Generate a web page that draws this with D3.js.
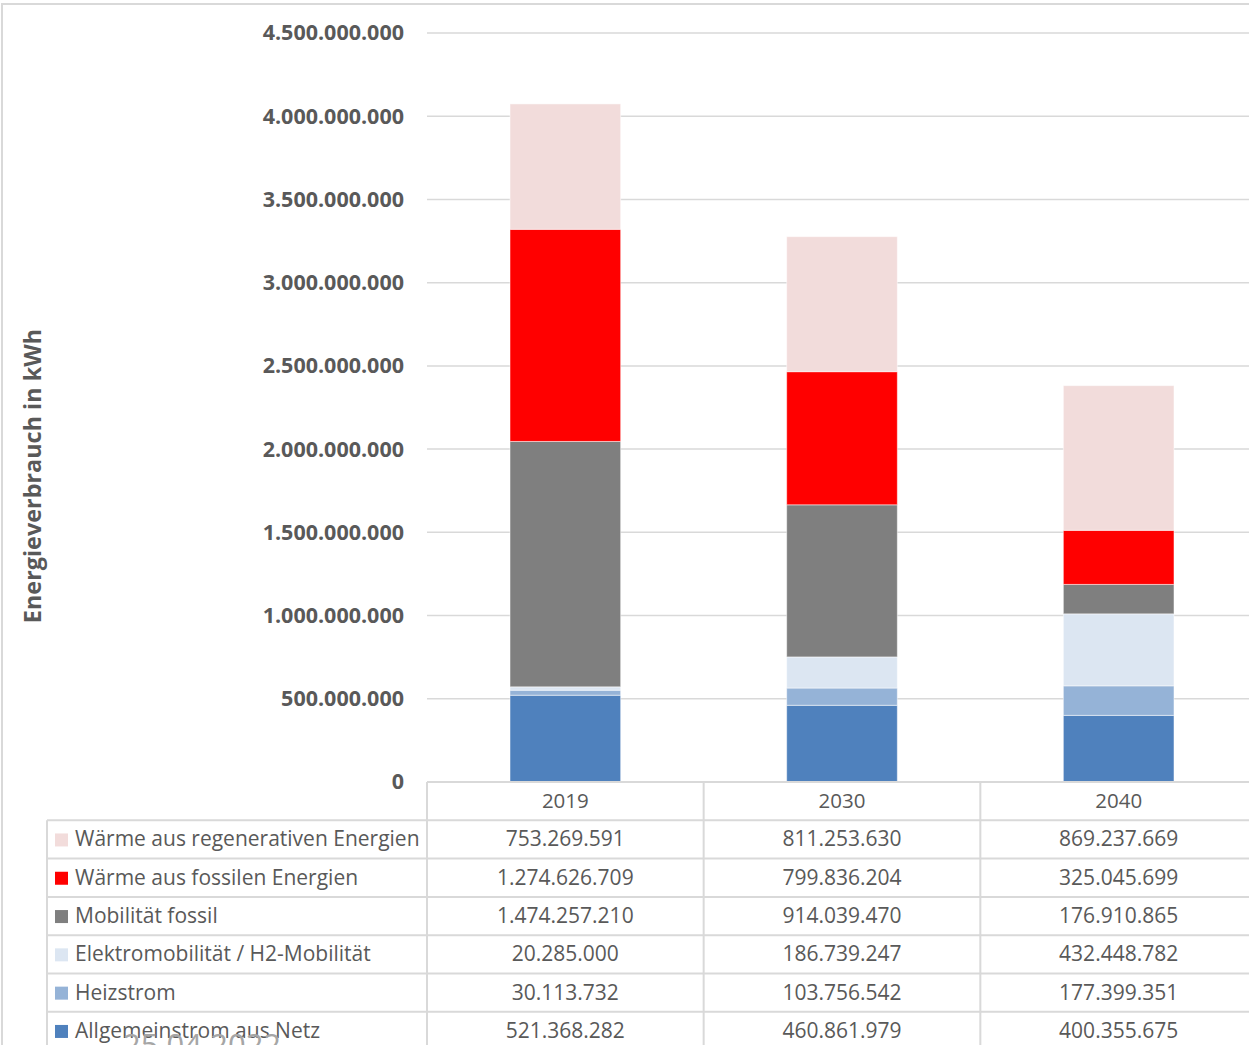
<!DOCTYPE html>
<html><head><meta charset="utf-8">
<script src="https://cdn.jsdelivr.net/npm/d3@7"></script>
<style>html,body{margin:0;padding:0;background:#fff;overflow:hidden}</style>
</head><body>
<svg id="c" width="1249" height="1045"></svg>
<script>
const years = ["2019", "2030", "2040"];
const seriesNames = ["Allgemeinstrom aus Netz", "Heizstrom", "Elektromobilität / H2-Mobilität", "Mobilität fossil", "Wärme aus fossilen Energien", "Wärme aus regenerativen Energien"];
const seriesColors = ["#4f81bd", "#95b3d7", "#dce6f2", "#7f7f7f", "#ff0000", "#f2dcdb"];
const allgemeinstrom = [521368282, 460861979, 400355675];
const heizstrom = [30113732, 103756542, 177399351];
const elektromobilitaet = [20285000, 186739247, 432448782];
const mobilitaetFossil = [1474257210, 914039470, 176910865];
const waermeFossil = [1274626709, 799836204, 325045699];
const waermeRegenerativ = [753269591, 811253630, 869237669];
const yTicks = [0, 500000000, 1000000000, 1500000000, 2000000000, 2500000000, 3000000000, 3500000000, 4000000000, 4500000000];

const seriesValues = [allgemeinstrom, heizstrom, elektromobilitaet, mobilitaetFossil, waermeFossil, waermeRegenerativ];
const rows = years.map((y, i) => { const o = {year: y}; seriesNames.forEach((s, j) => o[s] = seriesValues[j][i]); return o; });
const stack = d3.stack().keys(seriesNames)(rows);

const de = d3.formatLocale({decimal: ",", thousands: ".", grouping: [3], currency: ["", "€"]});
const fmt = de.format(",.0f");

const svg = d3.select("#c");
const font = "'Open Sans', 'DejaVu Sans', sans-serif";
const grid = "#d9d9d9";

// outer border
svg.append("path").attr("d", "M2,1045 V4 H1249").attr("fill", "none").attr("stroke", grid).attr("stroke-width", 2);

const x = d3.scaleBand().domain(years).range([427, 1257]).paddingInner(0.6).paddingOuter(0.3);
const y = d3.scaleLinear().domain([0, 4500000000]).range([782, 33]);

// gridlines
svg.append("g").selectAll("line").data(yTicks.slice(1)).join("line")
  .attr("x1", 427).attr("x2", 1249).attr("y1", d => y(d)).attr("y2", d => y(d))
  .attr("stroke", grid).attr("stroke-width", 1.5);

// y axis labels
const ya = svg.append("g").attr("transform", "translate(404,0)")
  .call(d3.axisLeft(y).tickValues(yTicks).tickFormat(fmt).tickSize(0).tickPadding(0));
ya.select(".domain").remove();
ya.selectAll("text").attr("font-family", font).attr("font-size", 21.5).attr("font-weight", "bold").attr("fill", "#595959");

// bars
svg.append("g").selectAll("g").data(stack).join("g")
  .attr("fill", (d, i) => seriesColors[i])
  .selectAll("rect").data(d => d).join("rect")
  .attr("x", d => x(d.data.year)).attr("width", x.bandwidth())
  .attr("y", d => y(d[1])).attr("height", d => y(d[0]) - y(d[1]))
  .attr("stroke", "#fff").attr("stroke-opacity", 0.5).attr("stroke-width", 1);

// y axis title
svg.append("text").attr("transform", "translate(41,476) rotate(-90)")
  .attr("text-anchor", "middle").attr("font-family", font).attr("font-size", 23.4)
  .attr("font-weight", "bold").attr("fill", "#595959").text("Energieverbrauch in kWh");

// data table
const rowTop = 782, rowH = 38.3;
const tableRows = seriesNames.slice().reverse();
const tg = svg.append("g");
tg.append("line").attr("x1", 427).attr("x2", 1249).attr("y1", rowTop).attr("y2", rowTop).attr("stroke", grid).attr("stroke-width", 2);
for (let r = 1; r <= 7; r++) {
  tg.append("line").attr("x1", 47).attr("x2", 1249).attr("y1", rowTop + r * rowH).attr("y2", rowTop + r * rowH).attr("stroke", grid).attr("stroke-width", 2);
}
tg.append("line").attr("x1", 47).attr("x2", 47).attr("y1", rowTop + rowH).attr("y2", 1045).attr("stroke", grid).attr("stroke-width", 2);
[427].concat(years.map(yr => x(yr) - x.step() * x.paddingInner() / 2 + x.step())).forEach(xx => {
  tg.append("line").attr("x1", xx).attr("x2", xx).attr("y1", rowTop).attr("y2", 1045).attr("stroke", grid).attr("stroke-width", 2);
});
tg.selectAll("text.yr").data(years).join("text").attr("class", "yr")
  .attr("x", d => x(d) + x.bandwidth() / 2).attr("y", rowTop + rowH / 2 + 7)
  .attr("text-anchor", "middle").attr("font-family", font).attr("font-size", 20.5).attr("fill", "#595959").text(d => d);
tableRows.forEach((s, r) => {
  const idx = seriesNames.indexOf(s);
  const cy = rowTop + (r + 1) * rowH + rowH / 2;
  tg.append("rect").attr("x", 55).attr("y", cy - 6).attr("width", 13).attr("height", 13).attr("fill", seriesColors[idx]);
  tg.append("text").attr("x", 75).attr("y", cy + 7).attr("font-family", font).attr("font-size", 21).attr("fill", "#595959").text(s);
  years.forEach((yr, i) => {
    tg.append("text").attr("x", x(yr) + x.bandwidth() / 2).attr("y", cy + 7).attr("text-anchor", "middle")
      .attr("font-family", font).attr("font-size", 21).attr("fill", "#595959").text(fmt(seriesValues[idx][i]));
  });
});

// overlapping date stamp (partly cut off at the bottom edge, as in the reference)
svg.append("text").attr("x", 123).attr("y", 1056).attr("font-family", font).attr("font-size", 31)
  .attr("fill", "#a6a6a6").text("25.04.2022");
</script>
</body></html>
